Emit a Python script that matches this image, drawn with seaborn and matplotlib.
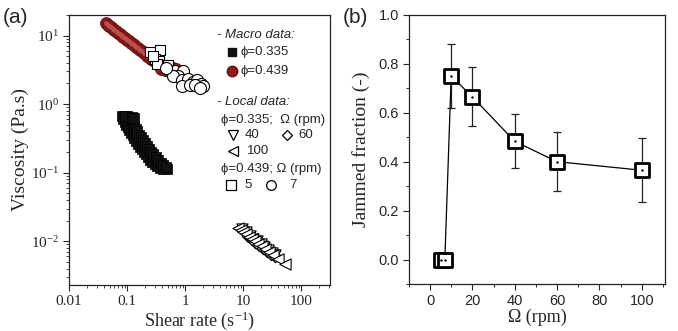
import matplotlib
matplotlib.use("Agg")
import matplotlib.pyplot as plt
import numpy as np
import seaborn as sns
from matplotlib.ticker import LogLocator, MultipleLocator, NullFormatter, FixedFormatter, FixedLocator

# ---- panel (a): viscosity vs shear rate ----
macro_439_rate = [0.043, 0.046, 0.049, 0.052, 0.056, 0.060, 0.064, 0.069, 0.074, 0.080,
                  0.086, 0.092, 0.099, 0.107, 0.115, 0.124, 0.133, 0.143, 0.154, 0.166,
                  0.179, 0.193, 0.208, 0.224, 0.241, 0.26, 0.28, 0.30, 0.33, 0.36,
                  0.40, 0.44, 0.49, 0.55, 0.62, 0.70, 0.38, 0.45]
macro_439_visc = [15.0, 14.4, 13.8, 13.3, 12.6, 12.0, 11.6, 11.0, 10.5, 10.0,
                  9.6, 9.2, 8.7, 8.3, 7.9, 7.6, 7.2, 6.9, 6.5, 6.2,
                  5.9, 5.6, 5.3, 5.1, 4.85, 4.6, 4.4, 4.2, 4.0, 3.85,
                  3.7, 3.6, 3.5, 3.4, 3.35, 3.3, 3.2, 3.1]

macro_335_rate = [0.080, 0.085, 0.090, 0.096, 0.102, 0.109, 0.116, 0.124, 0.133, 0.143,
                  0.154, 0.166, 0.18, 0.195, 0.21, 0.23, 0.25, 0.27, 0.30, 0.33,
                  0.37, 0.42, 0.48,
                  0.10, 0.11, 0.12, 0.125, 0.13, 0.14, 0.15, 0.16, 0.17, 0.185,
                  0.20, 0.22, 0.24, 0.26, 0.28, 0.31, 0.34, 0.38, 0.42, 0.46,
                  0.09, 0.12, 0.13]
macro_335_visc = [0.66, 0.60, 0.55, 0.50, 0.46, 0.42, 0.38, 0.35, 0.32, 0.29,
                  0.265, 0.24, 0.22, 0.20, 0.185, 0.17, 0.155, 0.145, 0.135, 0.125,
                  0.118, 0.115, 0.115,
                  0.66, 0.62, 0.58, 0.53, 0.48, 0.44, 0.40, 0.36, 0.33, 0.30,
                  0.27, 0.245, 0.22, 0.20, 0.185, 0.17, 0.155, 0.14, 0.13, 0.12,
                  0.66, 0.64, 0.62]

local_5_rate = [0.246, 0.366, 0.30, 0.36, 0.33, 0.28, 0.50]
local_5_visc = [5.7, 6.2, 4.6, 4.3, 3.9, 5.0, 3.7]

local_7_rate = [0.545, 0.66, 0.925, 0.757, 0.62, 0.87, 1.12, 1.37, 1.58, 1.91,
                2.0, 0.87, 1.2, 1.46, 1.79, 0.46]
local_7_visc = [3.09, 3.0, 3.0, 2.61, 2.61, 2.22, 2.29, 2.09, 2.22, 1.97,
                1.81, 1.81, 1.87, 1.87, 1.74, 3.4]

local_40_rate = [9.5, 11, 13, 15, 17, 20, 23, 27, 31, 36]
local_40_visc = [0.0150, 0.0135, 0.0120, 0.0108, 0.0100, 0.0090, 0.0082, 0.0074, 0.0068, 0.0062]

local_60_rate = [12, 14, 16, 19, 22, 26, 30, 35]
local_60_visc = [0.0118, 0.0107, 0.0098, 0.0089, 0.0081, 0.0073, 0.0066, 0.0060]

local_100_rate = [8.0, 9.0, 10, 11, 12.5, 14, 16, 18, 21, 24, 28, 33, 40, 52]
local_100_visc = [0.0156, 0.0144, 0.0135, 0.0127, 0.0117, 0.0109, 0.0100, 0.0092,
                  0.0084, 0.0077, 0.0070, 0.0063, 0.0055, 0.0047]

x_ticks_a = [0.01, 0.1, 1, 10, 100]
x_ticklabels_a = ["0.01", "0.1", "1", "10", "100"]

# ---- panel (b): jammed fraction vs rotation speed ----
omega_rpm = [5, 7, 10, 20, 40, 60, 100]
jammed_fraction = [0.0, 0.0, 0.75, 0.665, 0.483, 0.40, 0.365]
jammed_err = [0.0, 0.0, 0.13, 0.12, 0.11, 0.12, 0.13]

RED = "#8e1c1c"
SERIF = "Liberation Serif"
SANS = ["Liberation Sans", "DejaVu Sans"]


def style_axes(ax):
    for sp in ax.spines.values():
        sp.set_linewidth(0.9)
        sp.set_color("#222222")


def panel_a(ax):
    kw = dict(ax=ax, legend=False, zorder=3)
    sns.scatterplot(x=macro_439_rate, y=macro_439_visc, marker="o", s=75,
                    color=RED, edgecolor="#6a0e0e", linewidth=0.5, **kw)
    # lighter core gives the shaded-sphere look of the original markers
    sns.scatterplot(x=macro_439_rate, y=macro_439_visc, marker="o", s=12,
                    color="#b85050", linewidth=0, ax=ax, legend=False, zorder=3)
    sns.scatterplot(x=macro_335_rate, y=macro_335_visc, marker="s", s=55,
                    color="#111111", edgecolor="#000000", linewidth=0.5, **kw)
    sns.scatterplot(x=local_5_rate, y=local_5_visc, marker="s", s=60,
                    color="white", edgecolor="black", linewidth=0.8, zorder=4, ax=ax, legend=False)
    sns.scatterplot(x=local_7_rate, y=local_7_visc, marker="o", s=75,
                    color="white", edgecolor="black", linewidth=0.8, zorder=4, ax=ax, legend=False)
    sns.scatterplot(x=local_40_rate, y=local_40_visc, marker="v", s=65,
                    color="white", edgecolor="black", linewidth=0.8, **kw)
    sns.scatterplot(x=local_60_rate, y=local_60_visc, marker="D", s=40,
                    color="white", edgecolor="black", linewidth=0.8, **kw)
    sns.scatterplot(x=local_100_rate, y=local_100_visc, marker="<", s=65,
                    color="white", edgecolor="black", linewidth=0.8, **kw)

    ax.set_xscale("log")
    ax.set_yscale("log")
    ax.set_xlim(0.01, 316)
    ax.set_ylim(2.3e-3, 20)
    ax.xaxis.set_major_locator(FixedLocator(x_ticks_a))
    ax.xaxis.set_major_formatter(FixedFormatter(x_ticklabels_a))
    ax.xaxis.set_minor_locator(LogLocator(base=10, subs=np.arange(2, 10)))
    ax.xaxis.set_minor_formatter(NullFormatter())
    ax.yaxis.set_major_locator(LogLocator(base=10, numticks=10))
    ax.yaxis.set_minor_locator(LogLocator(base=10, subs=np.arange(2, 10), numticks=10))
    ax.yaxis.set_minor_formatter(NullFormatter())
    ax.tick_params(which="major", direction="out", length=4, width=0.8,
                   labelsize=11, labelfontfamily=SERIF, pad=3)
    ax.tick_params(which="minor", direction="out", length=2, width=0.6)
    ax.set_xlabel("Shear rate (s$^{\\mathdefault{-1}}$)", fontsize=13, family=SERIF, labelpad=1)
    ax.set_ylabel("Viscosity (Pa.s)", fontsize=14, family=SERIF, labelpad=2)
    style_axes(ax)

    # hand-built legend block
    t = ax.transAxes
    fs = 9.5
    ax.text(0.567, 0.926, "- Macro data:", transform=t, fontsize=fs, style="italic",
            family=SANS, va="center")
    ax.plot(0.625, 0.863, "s", transform=t, ms=6, color="#111111", clip_on=False)
    ax.text(0.655, 0.863, "ϕ=0.335", transform=t, fontsize=fs, family=SANS, va="center")
    ax.plot(0.625, 0.793, "o", transform=t, ms=7.5, color=RED, mec="#6a0e0e", clip_on=False)
    ax.text(0.655, 0.793, "ϕ=0.439", transform=t, fontsize=fs, family=SANS, va="center")
    ax.text(0.567, 0.678, "- Local data:", transform=t, fontsize=fs, style="italic",
            family=SANS, va="center")
    ax.text(0.582, 0.611, "ϕ=0.335;  Ω (rpm)", transform=t, fontsize=fs, family=SANS, va="center")
    open_kw = dict(transform=t, mfc="white", mec="black", mew=0.9, clip_on=False)
    ax.plot(0.628, 0.556, "v", ms=7, **open_kw)
    ax.text(0.674, 0.556, "40", transform=t, fontsize=fs, family=SANS, va="center")
    ax.plot(0.835, 0.556, "D", ms=5.5, **open_kw)
    ax.text(0.877, 0.556, "60", transform=t, fontsize=fs, family=SANS, va="center")
    ax.plot(0.628, 0.496, "<", ms=7, **open_kw)
    ax.text(0.682, 0.496, "100", transform=t, fontsize=fs, family=SANS, va="center")
    ax.text(0.582, 0.430, "ϕ=0.439; Ω (rpm)", transform=t, fontsize=fs, family=SANS, va="center")
    ax.plot(0.621, 0.370, "s", ms=6.5, **open_kw)
    ax.text(0.670, 0.370, "5", transform=t, fontsize=fs, family=SANS, va="center")
    ax.plot(0.774, 0.370, "o", ms=7, **open_kw)
    ax.text(0.843, 0.370, "7", transform=t, fontsize=fs, family=SANS, va="center")


def panel_b(ax):
    sns.lineplot(x=omega_rpm, y=jammed_fraction, color="black", linewidth=0.9,
                 sort=False, ax=ax, zorder=2)
    has_err = [e > 0 for e in jammed_err]
    ax.errorbar([o for o, h in zip(omega_rpm, has_err) if h],
                [f for f, h in zip(jammed_fraction, has_err) if h],
                yerr=[e for e, h in zip(jammed_err, has_err) if h],
                fmt="none", ecolor="#222222", elinewidth=0.9, capsize=3, capthick=0.9, zorder=1)
    sns.scatterplot(x=omega_rpm, y=jammed_fraction, marker="s", s=115, color="white",
                    edgecolor="black", linewidth=2.0, ax=ax, legend=False, zorder=3)
    sns.scatterplot(x=omega_rpm, y=jammed_fraction, marker="o", s=3, color="black",
                    edgecolor="black", linewidth=0, ax=ax, legend=False, zorder=4)

    ax.set_xlim(-10, 111)
    ax.set_ylim(-0.1, 1.0)
    ax.xaxis.set_major_locator(MultipleLocator(20))
    ax.xaxis.set_minor_locator(MultipleLocator(10))
    ax.yaxis.set_major_locator(MultipleLocator(0.2))
    ax.yaxis.set_minor_locator(MultipleLocator(0.1))
    ax.yaxis.set_major_formatter(plt.FormatStrFormatter("%.1f"))
    ax.tick_params(which="major", direction="out", length=4, width=0.8,
                   labelsize=10.5, labelfontfamily="Liberation Sans", pad=3)
    ax.tick_params(which="minor", direction="out", length=2.5, width=0.7)
    ax.set_xlabel("Ω (rpm)", fontsize=13, family=SERIF, labelpad=1)
    ax.set_ylabel("Jammed fraction (-)", fontsize=14, family=SERIF, labelpad=6)
    style_axes(ax)


def main():
    sns.set_style("ticks")
    plt.rcParams["mathtext.default"] = "regular"
    fig = plt.figure(figsize=(6.78, 3.31), dpi=100)
    ax1 = fig.add_axes([0.102, 0.139, 0.385, 0.816])
    ax2 = fig.add_axes([0.603, 0.142, 0.378, 0.813])
    panel_a(ax1)
    panel_b(ax2)
    fig.text(0.004, 0.948, "(a)", fontsize=15, family=SANS, va="center")
    fig.text(0.506, 0.948, "(b)", fontsize=15, family=SANS, va="center")
    fig.savefig("out.png", dpi=100)
    plt.close(fig)


if __name__ == "__main__":
    main()
